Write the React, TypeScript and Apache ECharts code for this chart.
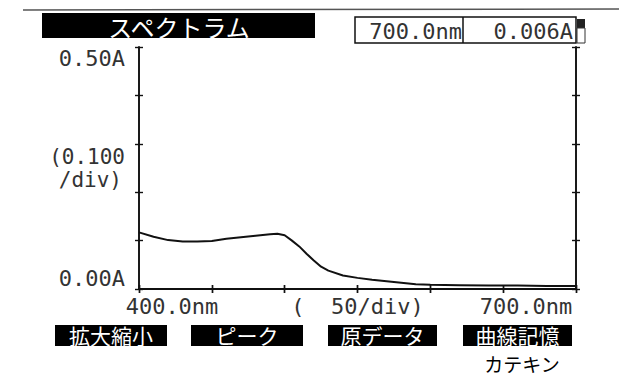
import React, { useEffect, useRef } from "react";
import * as echarts from "echarts";

// Spectrum (wavelength nm -> absorbance A)
const wavelengths = [400, 410, 420, 430, 440, 450, 460, 470, 480, 490, 495, 500, 505, 510, 515, 520, 525, 530, 540, 550, 560, 570, 580, 590, 600, 620, 640, 660, 680, 700];
const absorbance = [0.117, 0.108, 0.101, 0.098, 0.098, 0.099, 0.104, 0.107, 0.110, 0.113, 0.114, 0.111, 0.100, 0.088, 0.073, 0.059, 0.046, 0.038, 0.028, 0.023, 0.019, 0.016, 0.013, 0.010, 0.009, 0.008, 0.007, 0.007, 0.006, 0.006];

const xLabelValues = [400, 550, 700];
const xLabelTexts = ["400.0nm", "(  50/div)", "700.0nm"];
const yLabelValues = [0.5, 0];
const yLabelTexts = ["0.50A", "0.00A"];
const yDivTexts = ["(0.100", "/div)"];
const titleText = "スペクトラム";
const readoutWave = "700.0nm";
const readoutAbs = "0.006A";
const buttonTexts = ["拡大縮小", "ピーク", "原データ", "曲線記憶"];
const sampleName = "カテキン";

const MONO = "'DejaVu Sans Mono', monospace";
const CJK = "'Noto Sans CJK JP', sans-serif";
const INK = "#111";
const TXT = "#333";

export default function App() {
  const ref = useRef<HTMLDivElement>(null);

  useEffect(() => {
    if (!ref.current) return;
    const chart = echarts.init(ref.current, null, { renderer: "svg" });

    const xKey = ["l", "m", "r"];
    const yKey = ["t", "b"];

    const baseX = {
      type: "value" as const,
      min: 400,
      max: 700,
      interval: 50,
      splitLine: { show: false },
      axisLine: { show: true, lineStyle: { color: INK, width: 1.6 } },
    };
    const baseY = {
      type: "value" as const,
      min: 0,
      max: 0.5,
      interval: 0.1,
      splitLine: { show: false },
      axisLine: { show: true, lineStyle: { color: INK, width: 1.6 } },
    };
    const tick = (inside: boolean) => ({
      show: true,
      inside,
      length: 4,
      lineStyle: { color: INK, width: 1.4 },
    });

    const buttons = [
      [55, 112],
      [191, 112],
      [328, 109],
      [463, 109],
    ];

    const graphic: any[] = [
      { type: "line", shape: { x1: 23, y1: 10, x2: 619, y2: 9 }, style: { stroke: "#555", lineWidth: 1.5 } },
      { type: "rect", shape: { x: 42, y: 13, width: 273, height: 25 }, style: { fill: "#000" } },
      {
        type: "text", x: 179, y: 26,
        style: { text: titleText, fill: "#fff", fontSize: 24, fontFamily: CJK, align: "center", verticalAlign: "middle" },
      },
      { type: "rect", shape: { x: 355, y: 17, width: 221, height: 26 }, style: { fill: "none", stroke: INK, lineWidth: 1.5 } },
      { type: "line", shape: { x1: 463, y1: 17, x2: 463, y2: 43 }, style: { stroke: INK, lineWidth: 1.5 } },
      {
        type: "text", x: 462, y: 31,
        style: { text: readoutWave, fill: TXT, fontSize: 22, fontFamily: MONO, align: "right", verticalAlign: "middle" },
      },
      {
        type: "text", x: 573, y: 31,
        style: { text: readoutAbs, fill: TXT, fontSize: 22, fontFamily: MONO, align: "right", verticalAlign: "middle" },
      },
      { type: "rect", shape: { x: 577, y: 19, width: 8, height: 9 }, style: { fill: "#222" } },
      { type: "rect", shape: { x: 577, y: 28, width: 8, height: 15 }, style: { fill: "none", stroke: "#333", lineWidth: 1 } },
      {
        type: "text", x: 125, y: 157,
        style: { text: yDivTexts[0], fill: TXT, fontSize: 21, fontFamily: MONO, align: "right", verticalAlign: "middle" },
      },
      {
        type: "text", x: 122, y: 180,
        style: { text: yDivTexts[1], fill: TXT, fontSize: 21, fontFamily: MONO, align: "right", verticalAlign: "middle" },
      },
      {
        type: "text", x: 522, y: 363,
        style: { text: sampleName, fill: "#000", fontSize: 19, fontFamily: CJK, align: "center", verticalAlign: "middle" },
      },
    ];
    buttons.forEach(([bx, bw], i) => {
      graphic.push({ type: "rect", shape: { x: bx, y: 325, width: bw, height: 21 }, style: { fill: "#000" } });
      graphic.push({
        type: "text", x: bx + bw / 2, y: 334.5,
        style: { text: buttonTexts[i], fill: "#fff", fontSize: 21, fontFamily: CJK, align: "center", verticalAlign: "middle" },
      });
    });

    chart.setOption({
      animation: false,
      grid: { left: 139, right: 43, top: 47, bottom: 88, containLabel: false },
      xAxis: [
        {
          ...baseX,
          position: "bottom",
          axisTick: tick(false),
          axisLabel: {
            show: true,
            margin: 6,
            color: TXT,
            fontSize: 22,
            fontFamily: MONO,
            showMinLabel: true,
            showMaxLabel: true,
            formatter: (v: number) => {
              const i = xLabelValues.indexOf(v);
              return i < 0 ? "" : `{${xKey[i]}|${xLabelTexts[i]}}`;
            },
            rich: {
              l: { fontSize: 22, fontFamily: MONO, color: TXT, padding: [0, 0, 0, 66] },
              m: { fontSize: 22, fontFamily: MONO, color: TXT },
              r: { fontSize: 22, fontFamily: MONO, color: TXT, padding: [0, 100, 0, 0] },
            },
          },
        },
        { ...baseX, position: "bottom", axisTick: tick(true), axisLabel: { show: false } },
        { ...baseX, position: "top", axisTick: tick(false), axisLabel: { show: false } },
        { ...baseX, position: "top", axisTick: tick(true), axisLabel: { show: false } },
      ],
      yAxis: [
        {
          ...baseY,
          position: "left",
          axisTick: tick(false),
          axisLabel: {
            show: true,
            margin: 14,
            color: TXT,
            fontSize: 22,
            fontFamily: MONO,
            showMinLabel: true,
            showMaxLabel: true,
            formatter: (v: number) => {
              const i = yLabelValues.findIndex((y) => Math.abs(y - v) < 1e-9);
              return i < 0 ? "" : `{${yKey[i]}|${yLabelTexts[i]}}`;
            },
            rich: {
              t: { fontSize: 22, fontFamily: MONO, color: TXT, padding: [22, 0, 0, 0] },
              b: { fontSize: 22, fontFamily: MONO, color: TXT, padding: [0, 0, 22, 0] },
            },
          },
        },
        { ...baseY, position: "left", axisTick: tick(true), axisLabel: { show: false } },
        { ...baseY, position: "right", axisTick: tick(false), axisLabel: { show: false } },
        { ...baseY, position: "right", axisTick: tick(true), axisLabel: { show: false } },
      ],
      series: [
        {
          type: "line",
          xAxisIndex: 0,
          yAxisIndex: 0,
          data: wavelengths.map((w, i) => [w, absorbance[i]]),
          symbol: "none",
          smooth: false,
          lineStyle: { color: INK, width: 2 },
        },
      ],
      graphic,
    });

    return () => chart.dispose();
  }, []);

  return (
    <div
      ref={ref}
      style={{ position: "absolute", left: 0, top: 0, width: 619, height: 377, background: "#fff" }}
    />
  );
}
